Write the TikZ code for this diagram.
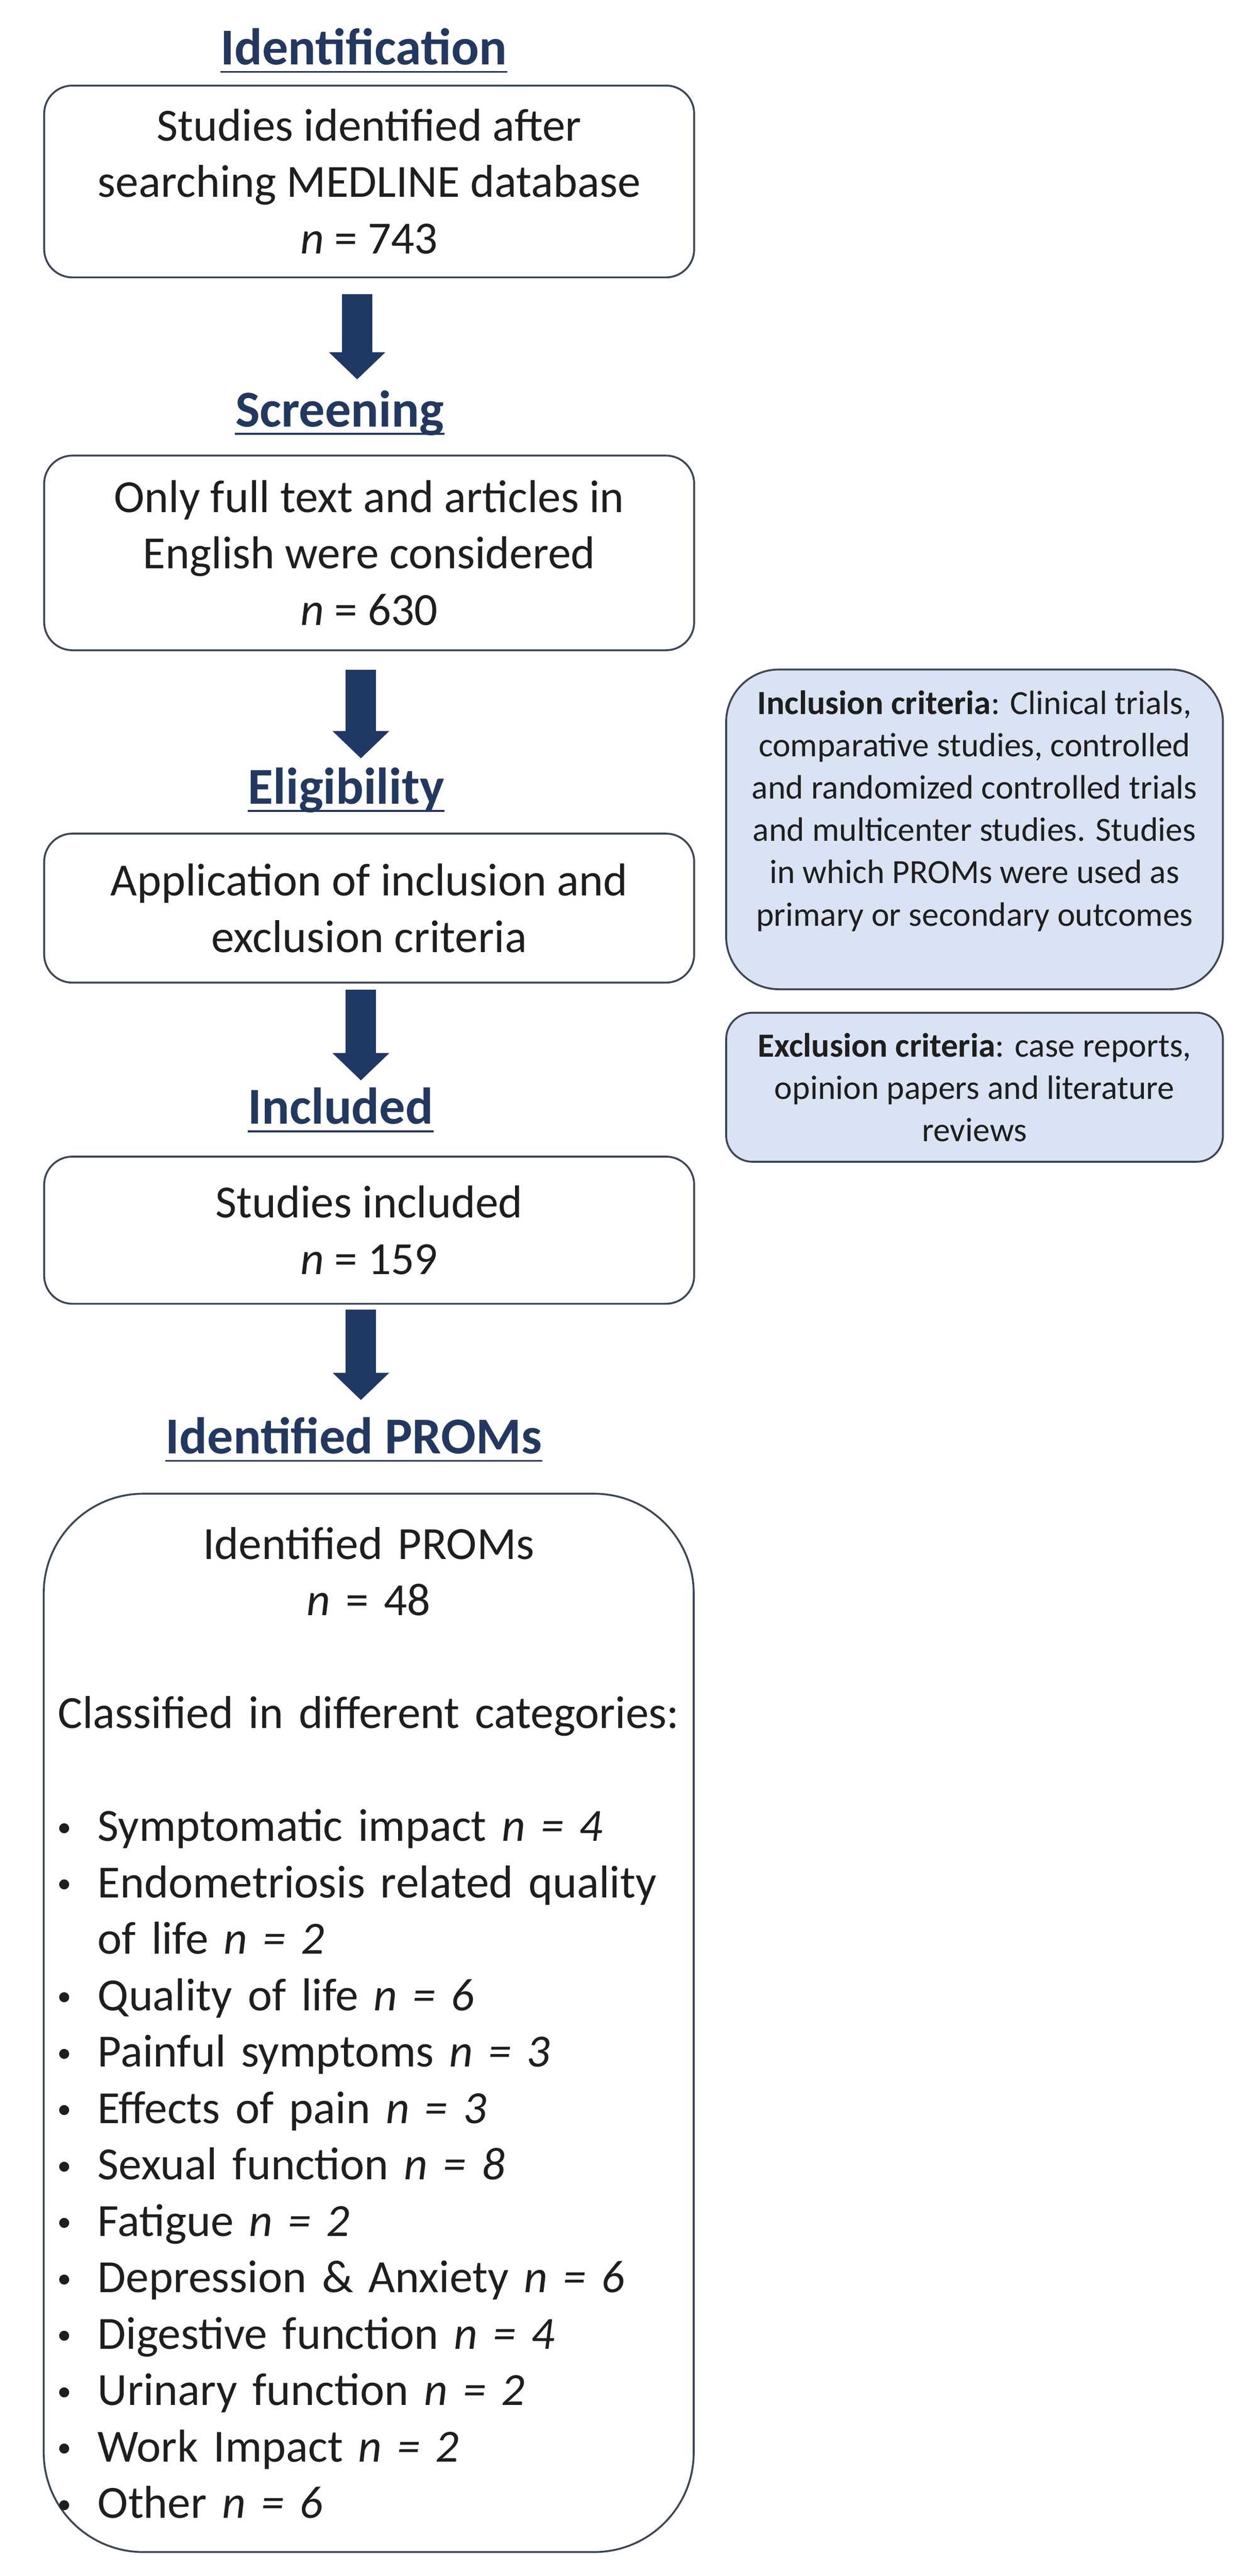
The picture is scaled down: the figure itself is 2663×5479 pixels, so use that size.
\documentclass[tikz,border=0pt]{standalone}
\usepackage{fontspec}
\setmainfont{Carlito}
\usetikzlibrary{arrows.meta}
\definecolor{navy}{RGB}{31,56,100}
\definecolor{titleblue}{RGB}{34,56,96}
\definecolor{edge}{RGB}{60,70,85}
\definecolor{incfill}{RGB}{218,227,243}
\definecolor{txt}{RGB}{30,30,30}
\setlength\parindent{0pt}
\newcommand\bitem[1]{\noindent\hspace*{7pt}\makebox[21.5pt][l]{\raisebox{2.6pt}{\fontsize{15pt}{15pt}\selectfont •}}#1\par}
\begin{document}
\begin{tikzpicture}[x=0.25pt,y=-0.25pt,
  box/.style={draw=edge, line width=1pt, rounded corners=15pt, fill=white,
    minimum width=345.75pt, inner sep=0pt, align=center,
    font=\fontsize{24.5pt}{30pt}\selectfont, text=txt},
  titlelabel/.style={inner sep=0pt, anchor=base west,
    font=\fontsize{27.5pt}{33pt}\selectfont\bfseries, text=titleblue},
  uline/.style={draw=titleblue, line width=1pt},
  bigarrow/.style={draw=navy, line width=16.25pt,
    -{Triangle[width=29.25pt,length=14.5pt]}},
  critbox/.style={draw=edge, line width=1pt, fill=incfill,
    minimum width=264.25pt, inner sep=0pt, align=center,
    font=\fontsize{18pt}{22.5pt}\selectfont, text=txt}]
\useasboundingbox (0,0) rectangle (2663,5479);
\fill[white] (0,0) rectangle (2663,5479);

% titles
\node[titlelabel] (t1) at (469,138) {Identification};
\node[titlelabel] (t2) at (500,908) {Screening};
\node[titlelabel] (t3) at (527,1710) {Eligibility\hspace{10.25pt}};
\node[titlelabel] (t4) at (527,2391) {Included\hspace{15.5pt}};
\node[titlelabel] (t5) at (352,3092) {Identified PROMs\hspace{8.25pt}};
\foreach \t in {t1,t2,t3,t4,t5}
  \draw[uline] ([yshift=-3.75pt]\t.base west) -- ([yshift=-3.75pt]\t.base east);

% main boxes
\node[box, minimum height=102pt] (b1) at (785.5,386)
  {Studies identified after\\searching MEDLINE database\\\textit{n} = 743};
\node[box, minimum height=103.5pt] (b2) at (785.5,1176)
  {Only full text and articles in\\English were considered\\\textit{n} = 630};
\node[box, minimum height=79.25pt] (b3) at (785.5,1931.5)
  {Application of inclusion and\\exclusion criteria};
\node[box, minimum height=78.25pt] (b4) at (785.5,2616.5)
  {Studies included\\\textit{n} = 159};
\node[box, rounded corners=53pt, minimum height=562.75pt, text width=345.25pt, align=left]
  (b5) at (784.5,4302.5) {%
  \makebox[\linewidth][c]{Identified PROMs}\par
  \makebox[\linewidth][c]{\textit{n} = 48}\par
  \vspace{30pt}
  \makebox[\linewidth][c]{Classified in different categories:}\par
  \vspace{30pt}
  \bitem{Symptomatic impact \textit{n = 4}}
  \bitem{Endometriosis related quality\\\hspace*{28.5pt}of life \textit{n = 2}}
  \bitem{Quality of life \textit{n = 6}}
  \bitem{Painful symptoms \textit{n = 3}}
  \bitem{Effects of pain \textit{n = 3}}
  \bitem{Sexual function \textit{n = 8}}
  \bitem{Fatigue \textit{n = 2}}
  \bitem{Depression \& Anxiety \textit{n = 6}}
  \bitem{Digestive function \textit{n = 4}}
  \bitem{Urinary function \textit{n = 2}}
  \bitem{Work Impact \textit{n = 2}}
  \bitem{Other \textit{n = 6}}};

% criteria boxes
\node[critbox, rounded corners=28pt, minimum height=170pt] (inc) at (2073.5,1764)
  {\textbf{Inclusion criteria}: Clinical trials,\\comparative studies, controlled\\and randomized controlled trials\\and multicenter studies. Studies\\in which PROMs were used as\\primary or secondary outcomes\\\mbox{}};
\node[critbox, rounded corners=14pt, minimum height=79.25pt] (exc) at (2073.5,2312.5)
  {\textbf{Exclusion criteria}: case reports,\\opinion papers and literature\\reviews};

% arrows
\draw[bigarrow, shorten <=8.5pt, shorten >=5.75pt]
  ([xshift=-6.4pt]b1.south) -- ([xshift=-6.4pt]b1.south |- t2.north);
\draw[bigarrow, shorten <=10pt, shorten >=4.75pt]
  ([xshift=-4.4pt]b2.south) -- ([xshift=-4.4pt]b2.south |- t3.north);
\draw[bigarrow, shorten <=3.25pt, shorten >=3.75pt]
  ([xshift=-4.4pt]b3.south) -- ([xshift=-4.4pt]b3.south |- t4.north);
\draw[bigarrow, shorten <=2.75pt, shorten >=9pt]
  ([xshift=-4.4pt]b4.south) -- ([xshift=-4.4pt]b4.south |- t5.north);
\end{tikzpicture}
\end{document}
